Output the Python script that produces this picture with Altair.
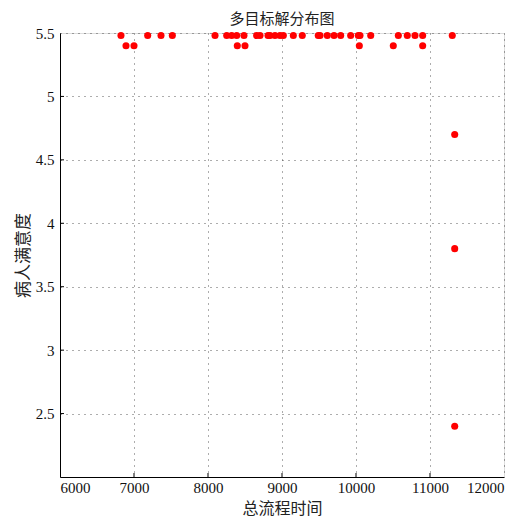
import altair as alt
import pandas as pd

# top row (satisfaction 5.48)
x_top = [6824, 7185, 7365, 7518, 8095, 8253, 8320, 8388, 8486, 8658, 8703, 8811,
         8838, 8905, 8973, 9018, 9153, 9274, 9490, 9514, 9612, 9703, 9793, 9928,
         10031, 10054, 10199, 10572, 10693, 10797, 10901, 11301]
y_top = [5.48] * len(x_top)
# second row (5.40)
x_mid = [6892, 7000, 8396, 8500, 10045, 10504, 10901]
y_mid = [5.40] * len(x_mid)
# right column
x_right = [11334, 11334, 11334]
y_right = [4.70, 3.80, 2.40]

xs = x_top + x_mid + x_right
ys = y_top + y_mid + y_right
df = pd.DataFrame({"t": xs, "s": ys})

x_ticks = [6000, 7000, 8000, 9000, 10000, 11000, 12000]
y_ticks = [2.5, 3.0, 3.5, 4.0, 4.5, 5.0, 5.5]
X_DOMAIN = [6000, 12000]
Y_DOMAIN = [2.0, 5.5]

W, H = 444, 444
serif = "Liberation Serif"
cjk = "Noto Sans CJK SC"

xscale = alt.Scale(domain=X_DOMAIN, nice=False, zero=False)
yscale = alt.Scale(domain=Y_DOMAIN, nice=False, zero=False)

xaxis = alt.Axis(values=x_ticks, title="总流程时间", titleFont=cjk, titleFontSize=16,
                 titleFontWeight="normal", titleColor="#222", titlePadding=5,
                 labelFont=serif, labelFontSize=15, labelColor="#111", labelPadding=3,
                 tickSize=0, domainColor="#000", domainWidth=1,
                 grid=True, gridDash=[1, 5], gridColor="#333", gridOpacity=0.8,
                 format="d")
yaxis = alt.Axis(values=y_ticks, title="病人满意度", titleFont=cjk, titleFontSize=17,
                 titleFontWeight="normal", titleColor="#222", titlePadding=3,
                 labelFont=serif, labelFontSize=15, labelColor="#111", labelPadding=6,
                 tickSize=0, domainColor="#000", domainWidth=1,
                 grid=True, gridDash=[1, 5], gridColor="#333", gridOpacity=0.8,
                 labelExpr="datum.value == 3 ? '3' : datum.value == 4 ? '4' : datum.value == 5 ? '5' : datum.label")

points = alt.Chart(df).mark_circle(size=50, color="#ff0000", opacity=1).encode(
    x=alt.X("t:Q", scale=xscale, axis=xaxis),
    y=alt.Y("s:Q", scale=yscale, axis=yaxis),
)

xt = pd.DataFrame({"v": x_ticks[1:-1]})
yt = pd.DataFrame({"v": y_ticks[:-1]})
xticks_rule = alt.Chart(xt).mark_rule(color="#000", strokeWidth=1).encode(
    x=alt.X("v:Q", scale=xscale), y=alt.value(H), y2=alt.value(H - 4))
yticks_rule = alt.Chart(yt).mark_rule(color="#000", strokeWidth=1).encode(
    y=alt.Y("v:Q", scale=yscale), x=alt.value(0), x2=alt.value(4))

chart = alt.layer(points, xticks_rule, yticks_rule).properties(
    width=W, height=H,
    title=alt.TitleParams("多目标解分布图", font=cjk, fontSize=15, fontWeight="normal",
                          color="#222", offset=2, dy=3),
    autosize=alt.AutoSizeParams(type="none"),
    padding={"left": 52, "top": 25, "right": 18, "bottom": 50},
).configure_view(stroke=None).configure(background="white")

chart.save("out.html", embed_options={"renderer": "svg", "actions": False})
